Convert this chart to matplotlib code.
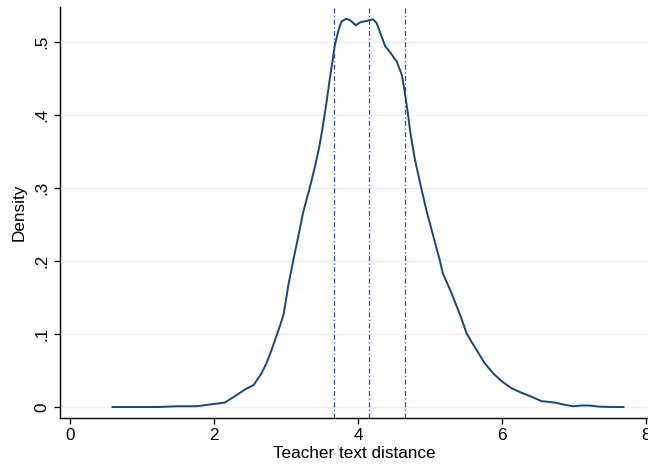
import matplotlib
matplotlib.use("Agg")
import matplotlib.pyplot as plt

# Kernel density curve
dist_x = [0.59, 0.90, 1.25, 1.48, 1.76, 1.99, 2.15, 2.31, 2.43, 2.55, 2.66, 2.73,
          2.80, 2.86, 2.92, 2.97, 3.03, 3.10, 3.17, 3.24, 3.33, 3.40, 3.46, 3.51,
          3.56, 3.61, 3.68, 3.73, 3.77, 3.84, 3.89, 3.97, 4.03, 4.12, 4.21, 4.26,
          4.32, 4.38, 4.44, 4.54, 4.61, 4.65, 4.69, 4.73, 4.79, 4.88, 4.95, 5.05,
          5.14, 5.18, 5.30, 5.42, 5.51, 5.58, 5.65, 5.76, 5.88, 6.00, 6.13, 6.26,
          6.39, 6.55, 6.74, 6.87, 6.99, 7.10, 7.22, 7.35, 7.50, 7.69]
density = [0.000, 0.000, 0.000, 0.001, 0.001, 0.004, 0.006, 0.016, 0.024, 0.030, 0.046, 0.060,
           0.078, 0.095, 0.112, 0.128, 0.165, 0.200, 0.233, 0.267, 0.300, 0.328, 0.355, 0.383,
           0.415, 0.450, 0.496, 0.516, 0.528, 0.532, 0.530, 0.523, 0.527, 0.529, 0.531, 0.526,
           0.510, 0.494, 0.487, 0.473, 0.455, 0.432, 0.405, 0.375, 0.340, 0.300, 0.270, 0.233,
           0.200, 0.183, 0.156, 0.126, 0.101, 0.089, 0.078, 0.060, 0.046, 0.035, 0.026, 0.020,
           0.015, 0.008, 0.006, 0.003, 0.001, 0.002, 0.002, 0.0005, 0.000, 0.000]

# Reference lines (mean and +/- 1 SD)
ref_lines = [3.67, 4.16, 4.65]

x_ticks = [0, 2, 4, 6, 8]
x_ticklabels = ["0", "2", "4", "6", "8"]
y_ticks = [0, 0.1, 0.2, 0.3, 0.4, 0.5]
y_ticklabels = ["0", ".1", ".2", ".3", ".4", ".5"]

plt.rcParams['font.family'] = ['Liberation Sans', 'DejaVu Sans']

fig = plt.figure(figsize=(6.48, 4.68), dpi=100)
ax = fig.add_axes([60/648, 50/468, 588/648, 411/468])

for y in y_ticks:
    ax.axhline(y, color='#eaf2f3', lw=1.0, zorder=0)

ax.plot(dist_x, density, color='#1a476f', lw=1.4, zorder=3)

for xv in ref_lines:
    ax.axvline(xv, color='#3448b0', lw=0.9, linestyle=(0, (4, 2, 1, 2)), zorder=2)

ax.set_xlim(-0.139, 8.03)
ax.set_ylim(-0.0151, 0.548)
ax.set_xticks(x_ticks)
ax.set_xticklabels(x_ticklabels)
ax.set_yticks(y_ticks)
ax.set_yticklabels(y_ticklabels, rotation=90, va='center')

for s in ['top', 'right']:
    ax.spines[s].set_visible(False)
for s in ['left', 'bottom']:
    ax.spines[s].set_linewidth(1.0)
    ax.spines[s].set_color('black')

ax.tick_params(axis='both', direction='out', length=4.5, width=0.9, labelsize=12.3, pad=3)
ax.set_xlabel("Teacher text distance", fontsize=12.3, labelpad=2)
ax.set_ylabel("Density", fontsize=12.3, labelpad=6)

fig.savefig("out.png", dpi=100)
